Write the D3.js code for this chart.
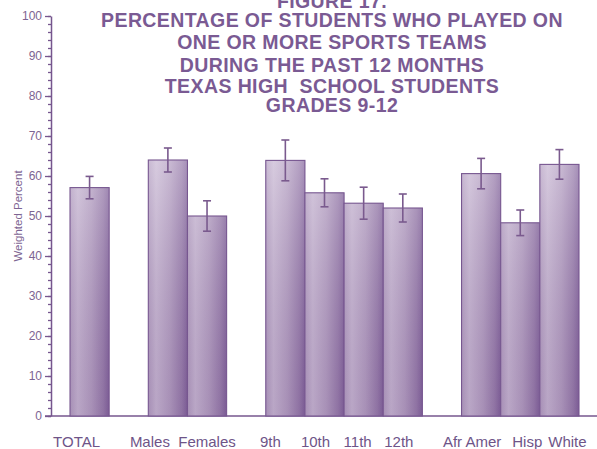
<!DOCTYPE html>
<html><head><meta charset="utf-8">
<script src="https://cdn.jsdelivr.net/npm/d3@7"></script>
<style>body{margin:0;background:#fff;}svg{display:block;}</style>
</head><body>
<script>
const categories = ["TOTAL","Males","Females","9th","10th","11th","12th","Afr Amer","Hisp","White"];
const groupIndex = [0,1,1,2,2,2,2,3,3,3];
const values = [57.1,64.0,50.0,63.9,55.8,53.2,52.0,60.6,48.3,62.9];
const errors = [2.8,3.0,3.8,5.1,3.5,4.0,3.5,3.8,3.2,3.7];
const yTicks = [0,10,20,30,40,50,60,70,80,90,100];
const titleLines = ["FIGURE 17.","PERCENTAGE OF STUDENTS WHO PLAYED ON","ONE OR MORE SPORTS TEAMS","DURING THE PAST 12 MONTHS","TEXAS HIGH  SCHOOL STUDENTS","GRADES 9-12"];
const yTitle = "Weighted Percent";

const W = 597, H = 449;
const ink = "#76568e";
const svg = d3.select("body").append("svg").attr("width", W).attr("height", H);
const defs = svg.append("defs");
const hg = defs.append("linearGradient").attr("id","hg").attr("x1","0").attr("x2","1").attr("y1","0").attr("y2","0");
[[0,"#b39dc1"],[0.2,"#c9b8d4"],[0.55,"#b49ec2"],[0.85,"#977bab"],[1,"#80609a"]].forEach(s=>hg.append("stop").attr("offset",s[0]).attr("stop-color",s[1]));
const vg = defs.append("linearGradient").attr("id","vg").attr("gradientUnits","userSpaceOnUse").attr("x1",0).attr("x2",0).attr("y1",140).attr("y2",416);
vg.append("stop").attr("offset",0).attr("stop-color","#fff").attr("stop-opacity",0.35);
vg.append("stop").attr("offset",1).attr("stop-color","#5a3a70").attr("stop-opacity",0.14);

const slots = categories.map((c,i)=>i+groupIndex[i]);
const x = d3.scaleBand().domain(d3.range(13)).range([70, 579]).paddingInner(0).paddingOuter(0);
const y = d3.scaleLinear().domain([0,100]).range([416,16]);
const xs = i => x(slots[i]);

// y axis
const gy = svg.append("g").attr("transform","translate(51,0)");
gy.call(d3.axisLeft(y).tickValues(d3.range(0,101,2)).tickSize(3).tickFormat(""));
gy.call(g=>g.select(".domain").remove());
const gy2 = svg.append("g").attr("transform","translate(51,0)");
gy2.call(d3.axisLeft(y).tickValues(yTicks).tickSize(6).tickPadding(3).tickSizeOuter(0));
svg.selectAll("g .tick line").attr("stroke", ink).attr("stroke-width",1.3);
gy2.select(".domain").attr("stroke", ink).attr("stroke-width",1.5);
gy2.selectAll("text").attr("fill","#7d6492").attr("font-family","Liberation Sans, Arial, sans-serif").attr("font-size",12);

// x baseline
svg.append("line").attr("x1",45).attr("x2",597).attr("y1",y(0)).attr("y2",y(0)).attr("stroke",ink).attr("stroke-width",1.5);

// bars
const bars = svg.append("g");
categories.forEach((c,i)=>{
  bars.append("rect").attr("x",xs(i)).attr("y",y(values[i])).attr("width",x.bandwidth()).attr("height",y(0)-y(values[i]))
    .attr("fill","url(#hg)");
  bars.append("rect").attr("x",xs(i)).attr("y",y(values[i])).attr("width",x.bandwidth()).attr("height",y(0)-y(values[i]))
    .attr("fill","url(#vg)").attr("stroke","#775790").attr("stroke-width",1.1);
});
// error bars
const eb = svg.append("g").attr("stroke","#7a5a8e").attr("stroke-width",1.6);
categories.forEach((c,i)=>{
  const cx = xs(i)+x.bandwidth()/2;
  eb.append("line").attr("x1",cx).attr("x2",cx).attr("y1",y(values[i]+errors[i])).attr("y2",y(values[i]-errors[i]));
  eb.append("line").attr("x1",cx-4).attr("x2",cx+4).attr("y1",y(values[i]+errors[i])).attr("y2",y(values[i]+errors[i]));
  eb.append("line").attr("x1",cx-4).attr("x2",cx+4).attr("y1",y(values[i]-errors[i])).attr("y2",y(values[i]-errors[i]));
});

// x labels
const lblShift = [-13,-18,0,-15,-9,-6,-4,-9,7,8];
svg.append("g").selectAll("text").data(categories).join("text")
  .attr("x",(d,i)=>xs(i)+x.bandwidth()/2+lblShift[i]).attr("y",447)
  .attr("text-anchor","middle").attr("fill","#6e5488")
  .attr("font-family","Liberation Sans, Arial, sans-serif").attr("font-size",15).text(d=>d);

// y title
svg.append("text").attr("transform","translate(22,216) rotate(-90)").attr("text-anchor","middle")
  .attr("fill","#7d6492").attr("font-family","Liberation Sans, Arial, sans-serif").attr("font-size",11.5).text(yTitle);

// title
const ty = [8,27,49,72,93,112];
svg.append("g").selectAll("text").data(titleLines).join("text")
  .attr("x",332).attr("y",(d,i)=>ty[i]).attr("text-anchor","middle").style("white-space","pre")
  .attr("fill","#7a5a93").attr("font-family","Liberation Sans, Arial, sans-serif").attr("font-weight","bold")
  .attr("letter-spacing",0.4).attr("font-size",19.5).text(d=>d);
</script>
</body></html>
